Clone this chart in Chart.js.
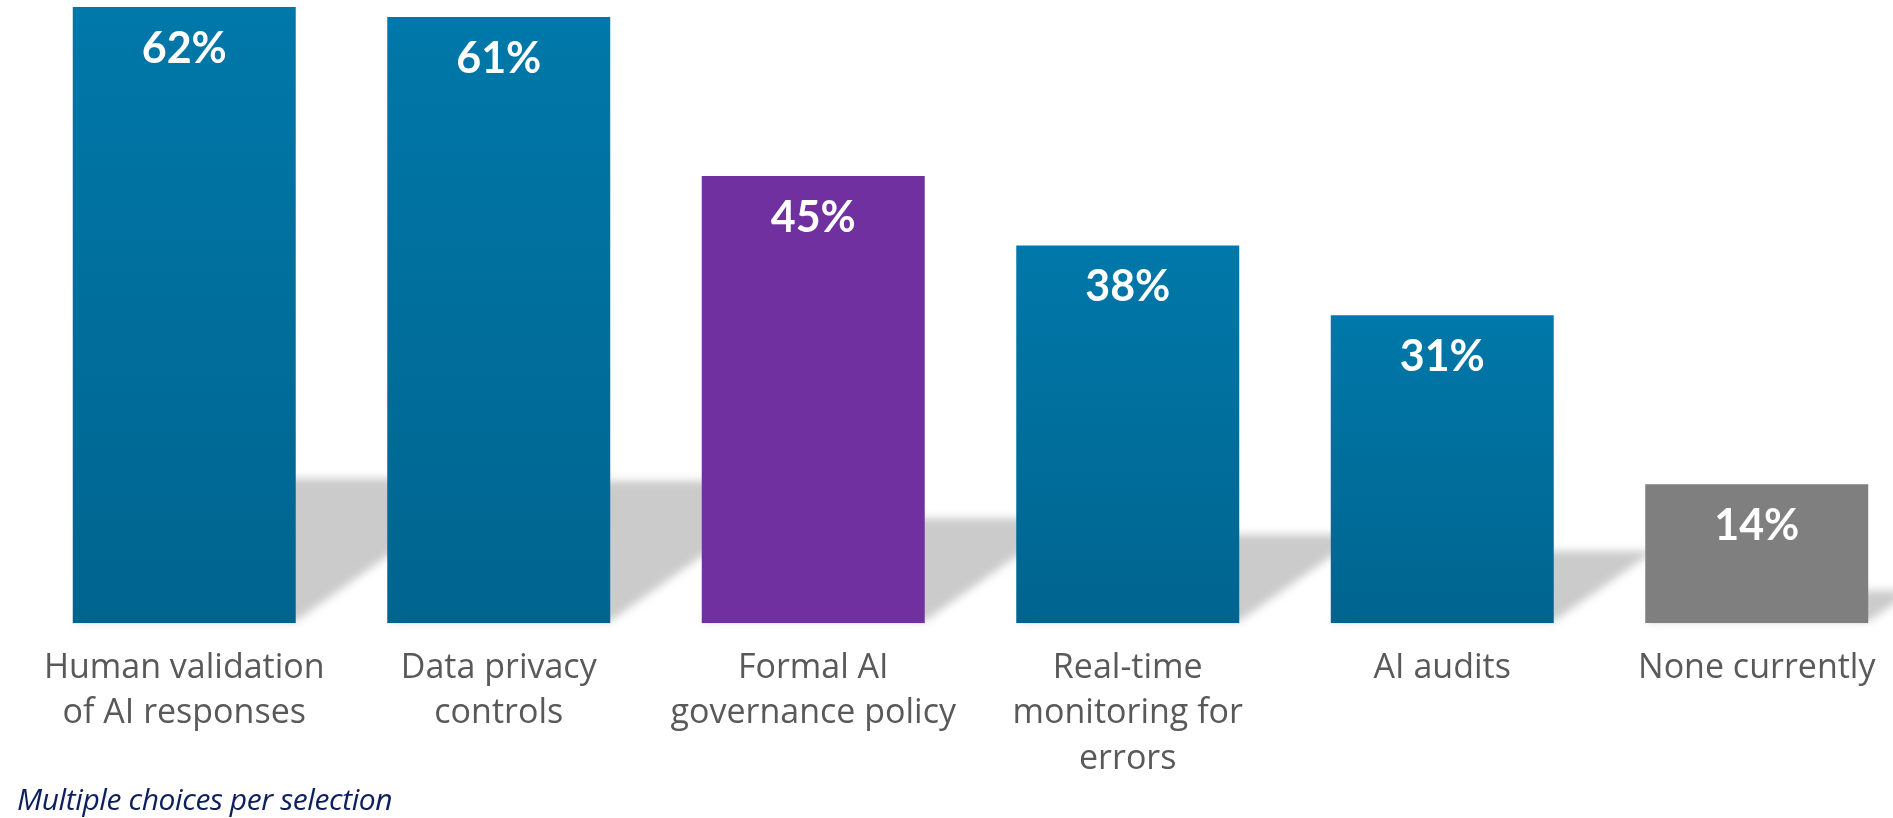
<!DOCTYPE html>
<html>
<head>
<meta charset="utf-8">
<script src="https://cdn.jsdelivr.net/npm/chart.js@4"></script>
<style>
  html, body { margin: 0; padding: 0; background: #fff; overflow: hidden; }
  #wrap { position: absolute; left: 0; top: 0; width: 1940px; height: 818px; }
  #note { position: absolute; left: 17px; top: 778px; font: italic 30px "Open Sans", sans-serif; color: #0d1f5c; letter-spacing: -0.4px; }
</style>
</head>
<body>
<div id="wrap"><canvas id="surveyChart"></canvas></div>
<div id="note">Multiple choices per selection</div>
<script>
// survey answers, share of respondents (%)
const categories = [
    ['Human validation', 'of AI responses'],
    ['Data privacy', 'controls'],
    ['Formal AI', 'governance policy'],
    ['Real-time', 'monitoring for', 'errors'],
    'AI audits',
    'None currently'
];
const values = [62, 61, 45, 38, 31, 14];
const barKinds = ['blue', 'blue', 'purple', 'blue', 'blue', 'grey'];

const canvas = document.getElementById('surveyChart');

// bar fill: blue bars get a light-to-dark fade from their own top to the baseline
function barFill(ctx) {
    const chart = ctx.chart;
    const kind = barKinds[ctx.dataIndex];
    if (kind === 'purple') return '#7030a0';
    if (kind === 'grey') return '#7f7f7f';
    if (!chart.chartArea) return '#006e9c';
    const y = chart.scales.y;
    const top = y.getPixelForValue(values[ctx.dataIndex]);
    const bottom = y.getPixelForValue(0);
    const g = chart.ctx.createLinearGradient(0, top, 0, bottom);
    g.addColorStop(0, '#0078a9');
    g.addColorStop(1, '#00648f');
    return g;
}

// soft grey floor shadow cast to the right of each bar
const shadowPlugin = {
    id: 'barShadow',
    beforeDatasetsDraw(chart) {
        const ctx = chart.ctx;
        const meta = chart.getDatasetMeta(0);
        ctx.save();
        ctx.filter = 'blur(4px)';
        ctx.fillStyle = '#cbcbcb';
        meta.data.forEach(bar => {
            const left = bar.x - bar.width / 2;
            const right = bar.x + bar.width / 2;
            const h = (bar.base - bar.y) * 0.235;
            const dx = h / 0.72;
            ctx.beginPath();
            ctx.moveTo(left, bar.base - 2);
            ctx.lineTo(right, bar.base - 2);
            ctx.lineTo(right + dx, bar.base - h);
            ctx.lineTo(left + dx, bar.base - h);
            ctx.closePath();
            ctx.fill();
        });
        ctx.restore();
    }
};

// white percentage near the top of every bar
const valueLabels = {
    id: 'valueLabels',
    afterDatasetsDraw(chart) {
        const ctx = chart.ctx;
        const meta = chart.getDatasetMeta(0);
        ctx.save();
        ctx.fillStyle = '#ffffff';
        ctx.font = 'bold 43px Lato, sans-serif';
        ctx.textAlign = 'center';
        ctx.textBaseline = 'middle';
        meta.data.forEach((bar, i) => {
            ctx.fillText(values[i] + '%', bar.x, bar.y + 42);
        });
        ctx.restore();
    }
};

new Chart(canvas, {
    type: 'bar',
    data: {
        labels: categories,
        datasets: [{
            data: values,
            backgroundColor: barFill,
            borderWidth: 0,
            categoryPercentage: 1,
            barPercentage: 0.709
        }]
    },
    options: {
        responsive: true,
        maintainAspectRatio: false,
        animation: false,
        layout: { padding: { left: 27, right: 26, top: 0, bottom: 14 } },
        plugins: {
            legend: { display: false },
            tooltip: { enabled: false }
        },
        scales: {
            x: {
                grid: { display: false, drawTicks: false },
                border: { display: false },
                ticks: {
                    color: '#595959',
                    font: { family: '"Open Sans", sans-serif', size: 34, lineHeight: 1.34 },
                    padding: 22,
                    maxRotation: 0,
                    autoSkip: false
                }
            },
            y: {
                display: false,
                min: 0,
                max: 62.7
            }
        }
    },
    plugins: [shadowPlugin, valueLabels]
});
</script>
</body>
</html>
